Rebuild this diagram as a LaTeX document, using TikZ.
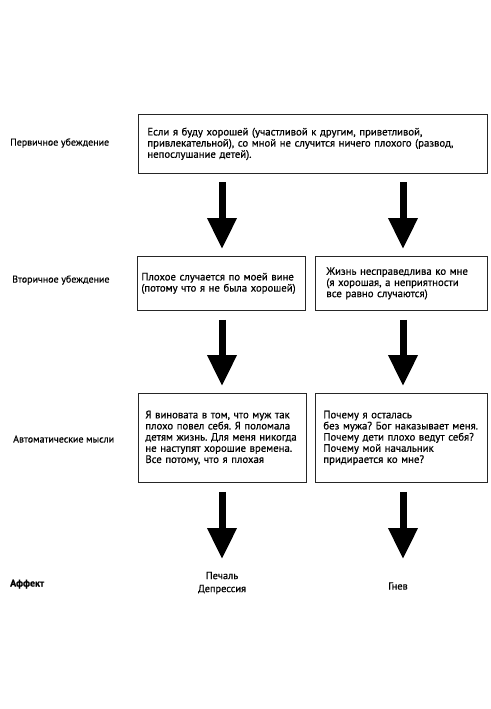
\documentclass[tikz,border=0pt]{standalone}
\usepackage{fontspec}
\setmainfont[FakeBold=0.6]{PT Sans}
\usetikzlibrary{arrows.meta,positioning}
\frenchspacing
\begin{document}
\begin{tikzpicture}[x=1bp,y=-1bp,
  font=\fontsize{10.8}{11.2}\selectfont,
  box/.style={draw=black!85,line width=0.8bp,align=left,anchor=north west,inner ysep=0pt},
  rowlabel/.style={anchor=west,inner sep=0pt,font=\fontsize{10}{11}\selectfont},
  bigarrow/.style={line width=7bp,-{Triangle[width=28bp,length=31bp]},shorten <=9bp,shorten >=7bp},
  affect/.style={align=center,inner sep=0pt,font=\fontsize{10.4}{13}\selectfont}]
\useasboundingbox (0,0) rectangle (491,709);
% boxes
\node[box,text width=331bp,inner xsep=9bp,minimum height=59bp] (top) at (138,114)
  {Если я буду хорошей (участливой к другим, приветливой,\\привлекательной), со мной не случится ничего плохого (развод,\\непослушание детей).};
\node[box,text width=160bp,inner xsep=4bp,minimum height=54bp] (l2) at (137,256)
  {Плохое случается по моей вине\\(потому что я не была хорошей)};
\node[box,text width=150bp,inner xsep=11bp,minimum height=54bp] (r2) at (315,256)
  {Жизнь несправедлива ко мне\\(я хорошая, а неприятности\\все равно случаются)};
\node[box,text width=154bp,inner xsep=7bp,minimum height=89bp] (l3) at (138,393)
  {Я виновата в том, что муж так\\плохо повел себя. Я поломала\\детям жизнь. Для меня никогда\\не наступят хорошие времена.\\Все потому, что я плохая};
\node[box,text width=156bp,inner xsep=8bp,minimum height=89bp] (r3) at (315,393)
  {Почему я осталась\\без мужа? Бог наказывает меня.\\Почему дети плохо ведут себя?\\Почему мой начальник\\придирается ко мне?};
% row labels
\node[rowlabel] (lab1) at (10,143) {Первичное убеждение};
\node[rowlabel] (lab2) at (12,280) {Вторичное убеждение};
\node[rowlabel] (lab3) at (13,439) {Автоматические мысли};
\node[rowlabel,font=\fontsize{10}{11}\selectfont\bfseries] (lab4) at (10,584) {Аффект};
% affects
\node[affect] (sad) at (222,583) {Печаль\\Депрессия};
\node[affect] (anger) at (398,586) {Гнев};
% arrow anchors
\coordinate (al1) at (222,173);
\coordinate (ar1) at (403,173);
\coordinate (al3) at (222,566);
\coordinate (ar3) at (403,566);
% arrows
\draw[bigarrow] (al1) -- (al1 |- l2.north);
\draw[bigarrow] (ar1) -- (ar1 |- r2.north);
\draw[bigarrow] (al1 |- l2.south) -- (al1 |- l3.north);
\draw[bigarrow] (ar1 |- r2.south) -- (ar1 |- r3.north);
\draw[bigarrow] (al1 |- l3.south) -- (al3);
\draw[bigarrow] (ar1 |- r3.south) -- (ar3);
\end{tikzpicture}
\end{document}
